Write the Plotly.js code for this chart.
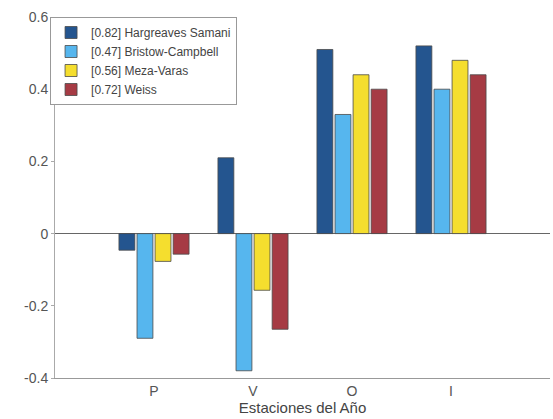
<!DOCTYPE html>
<html>
<head>
<meta charset="utf-8">
<script src="https://cdn.plot.ly/plotly-3.0.1.min.js"></script>
<style>html,body{margin:0;padding:0;background:#fff}#chart{width:553px;height:419px}</style>
</head>
<body>
<div id="chart"></div>
<script>
const categories = ["P", "V", "O", "I"];
const catPositions = [1, 2, 3, 4];
const seriesNames = ["[0.82] Hargreaves Samani", "[0.47] Bristow-Campbell", "[0.56] Meza-Varas", "[0.72] Weiss"];
const hargreaves = [-0.046, 0.21, 0.51, 0.52];
const bristow = [-0.29, -0.38, 0.33, 0.40];
const meza = [-0.077, -0.157, 0.44, 0.48];
const weiss = [-0.057, -0.265, 0.40, 0.44];
const yTicks = [-0.4, -0.2, 0, 0.2, 0.4, 0.6];
const yTickText = ["-0.4", "-0.2", "0", "0.2", "0.4", "0.6"];

const colors = ["#24558f", "#56b6ee", "#f5de2e", "#a63b44"];
const allSeries = [hargreaves, bristow, meza, weiss];
const traces = allSeries.map((vals, i) => ({
  type: "bar",
  x: catPositions,
  y: vals,
  name: seriesNames[i],
  marker: {color: colors[i], line: {color: "#4a4a4a", width: 0.8}}
}));

const layout = {
  width: 553, height: 419,
  margin: {l: 55, r: 3, t: 17, b: 41},
  paper_bgcolor: "#fff", plot_bgcolor: "#fff",
  barmode: "group", bargap: 0.27, bargroupgap: 0.12,
  font: {family: "Liberation Sans, Arial, sans-serif", color: "#555", size: 14},
  showlegend: true,
  legend: {x: -0.01, y: 1, xanchor: "left", yanchor: "top", bgcolor: "#fff",
           bordercolor: "#999", borderwidth: 1, font: {size: 12, color: "#444"},
           tracegroupgap: 0, itemwidth: 30},
  xaxis: {range: [0, 5], tickvals: catPositions, ticktext: categories,
          showgrid: false, zeroline: false, showline: true, linecolor: "#999", linewidth: 1,
          ticks: "", tickfont: {size: 14, color: "#555"},
          title: {text: "Estaciones del Año", font: {size: 15, color: "#444"}, standoff: 2}},
  yaxis: {range: [-0.4, 0.6], tickvals: yTicks, ticktext: yTickText,
          showgrid: false, zeroline: true, zerolinecolor: "#666", zerolinewidth: 1.2,
          showline: true, linecolor: "#aaa", linewidth: 1, ticks: "outside", ticklen: 3, tickcolor: "#aaa",
          tickfont: {size: 14, color: "#555"}}
};
Plotly.newPlot("chart", traces, layout, {staticPlot: true});
</script>
</body>
</html>
